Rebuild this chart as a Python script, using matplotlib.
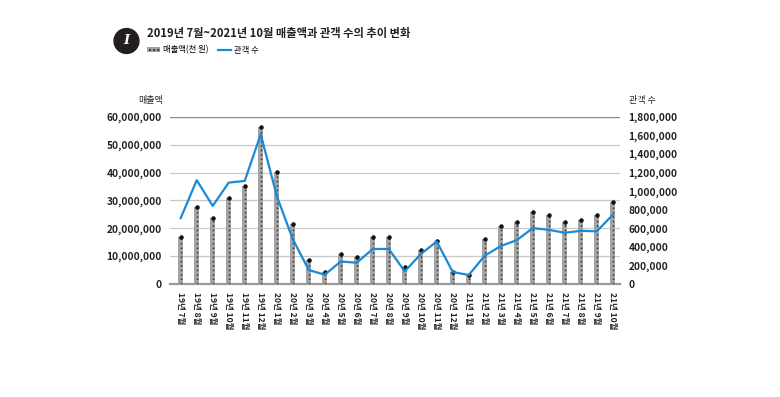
import numpy as np
import matplotlib.pyplot as plt
from matplotlib.lines import Line2D
from matplotlib.patches import Patch
from matplotlib.ticker import FuncFormatter

plt.rcParams['font.family'] = ['Noto Sans CJK KR', 'DejaVu Sans']

# 데이터
months = ['19년 7월', '19년 8월', '19년 9월', '19년 10월', '19년 11월', '19년 12월',
          '20년 1월', '20년 2월', '20년 3월', '20년 4월', '20년 5월', '20년 6월',
          '20년 7월', '20년 8월', '20년 9월', '20년 10월', '20년 11월', '20년 12월',
          '21년 1월', '21년 2월', '21년 3월', '21년 4월', '21년 5월', '21년 6월',
          '21년 7월', '21년 8월', '21년 9월', '21년 10월']
sales = [17.0, 27.8, 23.6, 30.9, 35.1, 56.5, 40.2, 21.6, 8.6, 4.2, 10.9, 9.8,
         16.8, 16.8, 6.2, 12.2, 15.3, 4.2, 3.3, 16.2, 20.7, 22.4, 25.8, 24.9,
         22.1, 22.9, 24.9, 29.6]  # 백만 단위
sales = [v * 1e6 for v in sales]
audience = [710, 1119, 842, 1093, 1111, 1614, 950, 484, 151, 100, 243, 229,
            377, 378, 136, 323, 458, 129, 97, 305, 409, 473, 602, 584,
            552, 573, 568, 746]
audience = [v * 1000 for v in audience]

left_ticks = [0, 10e6, 20e6, 30e6, 40e6, 50e6, 60e6]
right_ticks = [0, 200e3, 400e3, 600e3, 800e3, 1000e3, 1200e3, 1400e3, 1600e3, 1800e3]

fig = plt.figure(figsize=(7.8, 3.97), dpi=100)
ax = fig.add_axes([170 / 780, 1 - 284 / 397, 450 / 780, 167 / 397])
x = np.arange(len(months))

# 매출액 막대
ax.bar(x, sales, width=0.3, color='#a3a3a3', zorder=2)
ax.vlines(x, 0, sales, colors='#2a2a2a', linestyles=(0, (1, 2.2)), lw=1.0, zorder=3)
ax.scatter(x, sales, s=5, color='#111111', zorder=4)

ax.set_xlim(-0.67, 27.45)
ax.set_ylim(0, 60e6)
ax.set_yticks(left_ticks)
ax.yaxis.set_major_formatter(FuncFormatter(lambda v, p: f'{int(v):,}'))
ax.set_xticks(x)
ax.set_xticklabels(months, rotation=270, fontsize=6.1, fontweight='bold', color='#231f20')
ax.tick_params(axis='both', length=0)
ax.tick_params(axis='y', labelsize=7.3, pad=6, labelcolor='#231f20')
ax.tick_params(axis='x', pad=6)
for lab in ax.get_yticklabels():
    lab.set_fontweight('bold')

# 그리드
for t in left_ticks[1:-1]:
    ax.axhline(t, color='#c8c8c8', lw=0.9, zorder=1)
ax.axhline(60e6, color='#8a8a8a', lw=1.0, zorder=1)
for s in ['top', 'left', 'right']:
    ax.spines[s].set_visible(False)
ax.spines['bottom'].set_color('#9a9a9a')
ax.spines['bottom'].set_linewidth(1.6)

# 관객 수 선
ax2 = ax.twinx()
ax2.plot(x, audience, color='#1a8ad8', lw=1.6, zorder=5)
ax2.set_ylim(0, 1.8e6)
ax2.set_yticks(right_ticks)
ax2.yaxis.set_major_formatter(FuncFormatter(lambda v, p: f'{int(v):,}'))
ax2.tick_params(axis='y', length=0, labelsize=7.3, pad=6, labelcolor='#231f20')
for lab in ax2.get_yticklabels():
    lab.set_fontweight('bold')
for s in ['top', 'left', 'right', 'bottom']:
    ax2.spines[s].set_visible(False)

# 축 제목
fig.text(163 / 780, 1 - 101 / 397, '매출액', ha='right', va='center', fontsize=6.5, color='#231f20')
fig.text(629 / 780, 1 - 101 / 397, '관객 수', ha='left', va='center', fontsize=6.5, color='#231f20')

# 제목과 아이콘
fig.text(126.5 / 780, 1 - 41 / 397, 'I', ha='center', va='center', fontsize=9.5,
         color='white', fontweight='bold', style='italic', family='DejaVu Serif',
         bbox=dict(boxstyle='circle,pad=0.45', fc='#231f20', ec='#231f20'))
fig.text(147 / 780, 1 - 34 / 397, '2019년 7월~2021년 10월 매출액과 관객 수의 추이 변화',
         ha='left', va='center', fontsize=8.1, fontweight='bold', color='#231f20')

handles = [Patch(facecolor='#a3a3a3', edgecolor='#333333', hatch='....', lw=0),
           Line2D([0], [0], color='#1a8ad8', lw=1.6)]
fig.legend(handles, ['매출액(천 원)', '관객 수'], loc='center left',
           bbox_to_anchor=(147 / 780, 1 - 50 / 397), ncol=2, frameon=False,
           fontsize=6.0, handlelength=1.5, handleheight=0.5, columnspacing=1.2,
           handletextpad=0.4, borderaxespad=0, borderpad=0)

plt.savefig('out.png', dpi=100)
